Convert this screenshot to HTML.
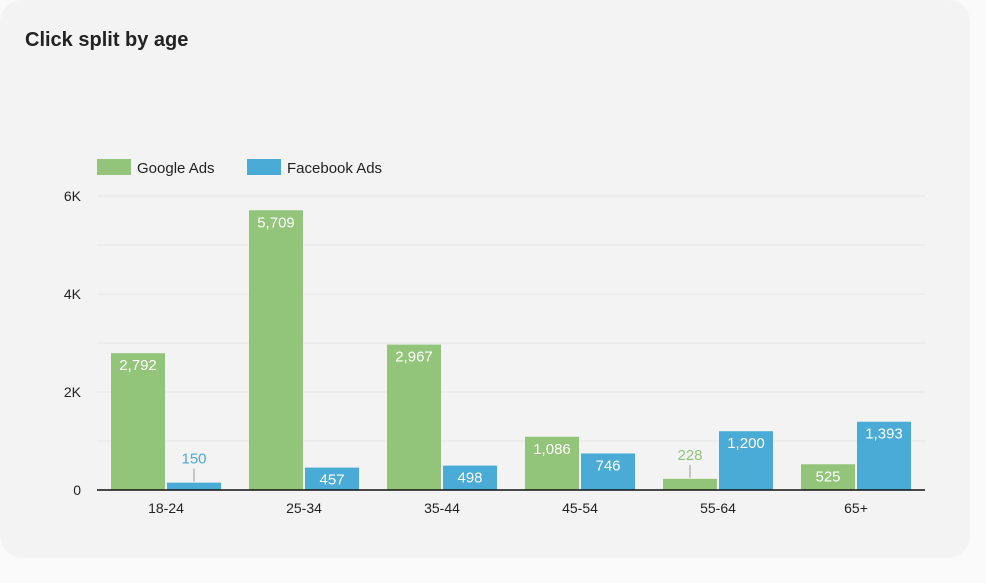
<!DOCTYPE html>
<html><head><meta charset="utf-8"><style>
body{margin:0;background:#fafafa;font-family:"Liberation Sans",sans-serif;}
#card{position:absolute;left:0;top:0;width:970px;height:558px;background:#f3f3f3;border-radius:22px;}
#title{position:absolute;left:25px;top:29px;font-size:20px;font-weight:bold;color:#222;}
</style></head><body>
<div id="card">
<div id="title">Click split by age</div>
<svg id="chart" width="986" height="583" style="position:absolute;left:0;top:0"></svg>
</div>
<script>
const categories=["18-24","25-34","35-44","45-54","55-64","65+"];
const googleValues=[2792,5709,2967,1086,228,525];
const facebookValues=[150,457,498,746,1200,1393];
const yTicks=[0,2000,4000,6000];
const yTickLabels=["0","2K","4K","6K"];
const seriesNames=["Google Ads","Facebook Ads"];
const colors=["#92c47a","#4aabd6"];
const svg=document.getElementById('chart');
const NS="http://www.w3.org/2000/svg";
const x0=97,x1=925,y0=490,yTop=196,yMax=6000;
const band=(x1-x0)/categories.length;
const yS=v=>y0-(v/yMax)*(y0-yTop);
function mk(t,a,txt){const e=document.createElementNS(NS,t);for(const k in a)e.setAttribute(k,a[k]);if(txt!==undefined)e.textContent=txt;svg.appendChild(e);return e;}
for(let v=0;v<=yMax;v+=1000){if(v===0)continue;const g=mk('line',{x1:x0,x2:x1,y1:yS(v),y2:yS(v),stroke:'#e4e4e4','stroke-width':1});

}
yTicks.forEach((v,i)=>{const t=mk('text',{x:81,y:yS(v)+5,'text-anchor':'end','font-size':14,fill:'#222'},yTickLabels[i]);

});
const fmt=v=>v.toLocaleString('en-US');
[googleValues,facebookValues].forEach((vals,s)=>{
vals.forEach((v,i)=>{
const bx=x0+band*i+14+s*56,w=54,y=yS(v);
const r=mk('rect',{x:bx,y:y,width:w,height:y0-y,fill:colors[s]});


let t;
if(y0-y>22){t=mk('text',{x:bx+w/2,y:y+17,'text-anchor':'middle','font-size':15,fill:'#fff'},fmt(v));}
else{const l=mk('line',{x1:bx+w/2,x2:bx+w/2,y1:y-1,y2:y-14,stroke:'#999','stroke-width':1});


t=mk('text',{x:bx+w/2,y:y-19,'text-anchor':'middle','font-size':15,fill:colors[s]},fmt(v));}


});});
const ax=mk('line',{x1:x0,x2:x1,y1:y0,y2:y0,stroke:'#111','stroke-width':1.5});


categories.forEach((c,i)=>{const t=mk('text',{x:x0+band*(i+0.5),y:513,'text-anchor':'middle','font-size':14,fill:'#222'},c);

});
const lx=[97,247];
seriesNames.forEach((n,i)=>{const r=mk('rect',{x:lx[i],y:159,width:34,height:16,fill:colors[i]});


const t=mk('text',{x:lx[i]+40,y:173,'font-size':15,fill:'#222'},n);

});
</script>
</body></html>
